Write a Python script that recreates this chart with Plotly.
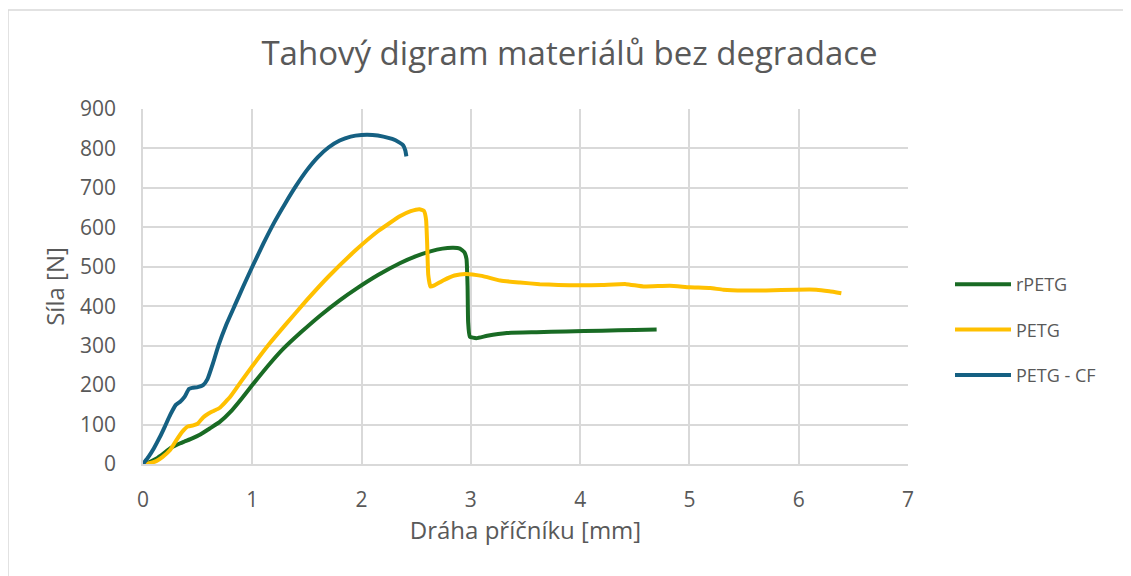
import plotly.graph_objects as go

# ---- data ----
cf_x = [0, 0.05, 0.1, 0.15, 0.2, 0.25, 0.3, 0.34, 0.38, 0.42, 0.45, 0.5, 0.55, 0.59, 0.64, 0.69, 0.76, 0.84,
        0.92, 1.0, 1.1, 1.2, 1.3, 1.4, 1.5, 1.6, 1.7, 1.8, 1.9, 2.0, 2.1, 2.2, 2.28, 2.34, 2.38, 2.40, 2.41]
cf_y = [0, 18, 40, 66, 95, 125, 150, 158, 170, 190, 193, 195, 200, 215, 255, 300, 352, 402,
        452, 500, 558, 612, 660, 705, 745, 778, 803, 820, 830, 834, 834, 830, 824, 816, 808, 795, 780]

petg_x = [0, 0.06, 0.125, 0.18, 0.25, 0.3, 0.36, 0.41, 0.46, 0.5, 0.55, 0.6, 0.65, 0.7, 0.8, 0.9, 1.0,
          1.16, 1.3, 1.5, 1.7, 1.95, 2.15, 2.35, 2.45, 2.53, 2.57, 2.59, 2.6, 2.61, 2.63, 2.66, 2.75,
          2.85, 2.95, 3.1, 3.27, 3.45, 3.63, 3.8, 4.0, 4.2, 4.42, 4.58, 4.82, 5.0, 5.19, 5.31, 5.5,
          5.7, 5.98, 6.16, 6.28, 6.39]
petg_y = [0, 2, 8, 18, 36, 58, 82, 95, 98, 102, 118, 128, 135, 142, 171, 210, 248,
          306, 352, 416, 476, 543, 590, 628, 641, 646, 642, 620, 560, 480, 450, 452, 466,
          478, 482, 477, 465, 460, 456, 454, 453, 454, 456, 450, 452, 448, 446, 442, 440,
          440, 442, 442, 438, 433]

rpetg_x = [0, 0.06, 0.125, 0.19, 0.25, 0.32, 0.38, 0.45, 0.52, 0.61, 0.7, 0.8, 0.9, 1.0, 1.16, 1.28,
           1.45, 1.62, 1.8, 1.95, 2.15, 2.35, 2.5, 2.63, 2.74, 2.84, 2.9, 2.94, 2.96, 2.97, 2.975,
           2.99, 3.05, 3.15, 3.33, 3.6, 3.87, 4.2, 4.5, 4.70]
rpetg_y = [0, 5, 14, 27, 40, 50, 57, 65, 74, 90, 106, 132, 165, 200, 254, 291,
           335, 376, 415, 444, 479, 509, 527, 539, 546, 548, 546, 537, 520, 450, 360,
           323, 319, 325, 332, 334, 336, 338, 340, 341]

series = [
    ("rPETG", rpetg_x, rpetg_y, "#196B24"),
    ("PETG", petg_x, petg_y, "#FFC000"),
    ("PETG - CF", cf_x, cf_y, "#156082"),
]

x_ticks = [0, 1, 2, 3, 4, 5, 6, 7]
y_ticks = [0, 100, 200, 300, 400, 500, 600, 700, 800, 900]

TXT = "#595959"
GRID = "#D9D9D9"
FONT = "Open Sans, sans-serif"

fig = go.Figure()
for i, (name, xs, ys, col) in enumerate(series):
    fig.add_trace(go.Scatter(x=xs, y=ys, mode="lines", name=name, legendgroup=str(i),
                             line=dict(color=col, width=4, shape="spline", smoothing=0.4)))

OFF = 8  # page body offset
L, T = 143 - OFF, 109 - OFF
pw, ph = 765, 355
W, H = 1131 - OFF, 576 - OFF
R = W - L - pw
B = H - T - ph

def px(xp):  # reference pixel x -> paper
    return (xp - OFF - L) / pw

def py(yp):  # reference pixel y -> paper
    return (T + ph - (yp - OFF)) / ph

fig.update_layout(
    width=W, height=H,
    margin=dict(l=L, r=R, t=T, b=B),
    paper_bgcolor="white", plot_bgcolor="white",
    font=dict(family=FONT, color=TXT, size=20),
    title=dict(text="Tahový digram materiálů bez degradace", x=0.5, xanchor="center",
               y=1 - (53 - OFF) / H, yanchor="middle", font=dict(size=33, color=TXT)),
    xaxis=dict(range=[0, 7], tickvals=x_ticks, showgrid=True, gridcolor=GRID, gridwidth=1.5,
               showline=True, linecolor=GRID, linewidth=1.5, zeroline=False,
               ticklabelstandoff=16, tickfont=dict(size=21),
               title=dict(text="Dráha příčníku [mm]", font=dict(size=24), standoff=6)),
    yaxis=dict(range=[0, 900], tickvals=y_ticks, showgrid=True, gridcolor=GRID, gridwidth=1.5,
               showline=True, linecolor=GRID, linewidth=1.5, zeroline=False,
               ticklabelstandoff=21, tickfont=dict(size=21),
               title=dict(text="Síla [N]", font=dict(size=24), standoff=9)),
    legend=dict(x=px(950), xanchor="left", y=py(285 - 19), yanchor="top",
                font=dict(size=18, color=TXT), tracegroupgap=19, itemwidth=56,
                bgcolor="rgba(0,0,0,0)"),
    showlegend=True,
)

# outer chart border
fig.add_shape(type="rect", xref="paper", yref="paper",
              x0=px(8), x1=px(1145), y0=py(590), y1=py(10),
              line=dict(color="#D9D9D9", width=1.5), fillcolor="rgba(0,0,0,0)", layer="below")

fig.write_html("out.html")
